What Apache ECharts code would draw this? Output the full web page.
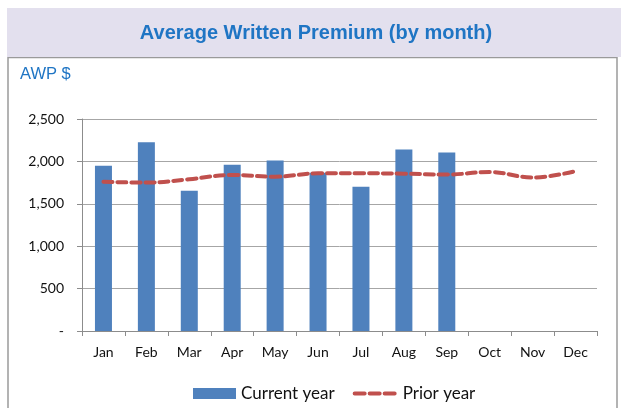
<!DOCTYPE html>
<html>
<head>
<meta charset="utf-8">
<script src="https://cdn.jsdelivr.net/npm/echarts@6/dist/echarts.min.js"></script>
<style>
html,body{margin:0;padding:0;background:#fff;}
#chart{width:632px;height:408px;}
</style>
</head>
<body>
<div id="chart"></div>
<script>
const months = ['Jan','Feb','Mar','Apr','May','Jun','Jul','Aug','Sep','Oct','Nov','Dec'];
const currentYear = [1950, 2225, 1655, 1960, 2010, 1865, 1700, 2140, 2105, null, null, null];
const priorYear = [1760, 1750, 1790, 1840, 1820, 1860, 1860, 1855, 1845, 1875, 1810, 1885];
const yTicks = [0, 500, 1000, 1500, 2000, 2500];

const chart = echarts.init(document.getElementById('chart'), null, {renderer:'canvas'});
const labelFont = 'Lato, "Open Sans", sans-serif';
chart.setOption({
  animation: false,
  graphic: [
    {type:'rect', shape:{x:8, y:57.5, width:609, height:400}, style:{fill:'#fff', stroke:'#9a9a9a', lineWidth:1.5}, z:-10},
    {type:'rect', shape:{x:7, y:8, width:614, height:49}, style:{fill:'#E3E0EE'}, z:-9},
    {type:'text', left:'center', top:23, style:{text:'Average Written Premium (by month)', fill:'#1F75C4', font:'bold 20px "Liberation Sans", Arial, sans-serif'}},
    {type:'text', left:20, top:66, style:{text:'AWP $', fill:'#1F75C4', font:'16.5px "Liberation Sans", Arial, sans-serif'}}
  ],
  grid: {left:82, right:35, top:119, bottom:77, containLabel:false},
  legend: {
    bottom: 1, left: 188,
    itemWidth: 43, itemHeight: 11, itemGap: 18,
    textStyle: {fontFamily: labelFont, fontSize: 17, color:'#111'},
    data: [
      {name:'Current year', icon:'rect'},
      {name:'Prior year', itemStyle:{opacity:0}, lineStyle:{width:4, type:[10,5], color:'#C0504D'}}
    ]
  },
  xAxis: {
    type:'category', data: months, boundaryGap: true,
    axisLine: {show:true, lineStyle:{color:'#8c8c8c', width:1}},
    axisTick: {show:true, length:5, lineStyle:{color:'#8c8c8c'}},
    axisLabel: {fontFamily: labelFont, fontSize:14, color:'#111', margin:14}
  },
  yAxis: {
    type:'value', min: yTicks[0], max: yTicks[yTicks.length-1], interval: yTicks[1]-yTicks[0],
    axisLine: {show:true, lineStyle:{color:'#8c8c8c', width:1}},
    axisTick: {show:true, length:5, lineStyle:{color:'#8c8c8c'}},
    splitLine: {show:true, lineStyle:{color:'#a6a6a6', width:1}},
    axisLabel: {fontFamily: labelFont, fontSize:14, color:'#111', margin:18,
      formatter: v => v === 0 ? '-' : v.toLocaleString('en-US')}
  },
  series: [
    {name:'Current year', type:'bar', data: currentYear, barWidth:17,
      itemStyle:{color:'#4F81BD'}},
    {name:'Prior year', type:'line', data: priorYear, smooth:0.4, symbol:'none',
      lineStyle:{color:'#C0504D', width:4, type:[9,5], cap:'round'},
      itemStyle:{color:'#C0504D'}, z:5}
  ]
});
</script>
</body>
</html>
